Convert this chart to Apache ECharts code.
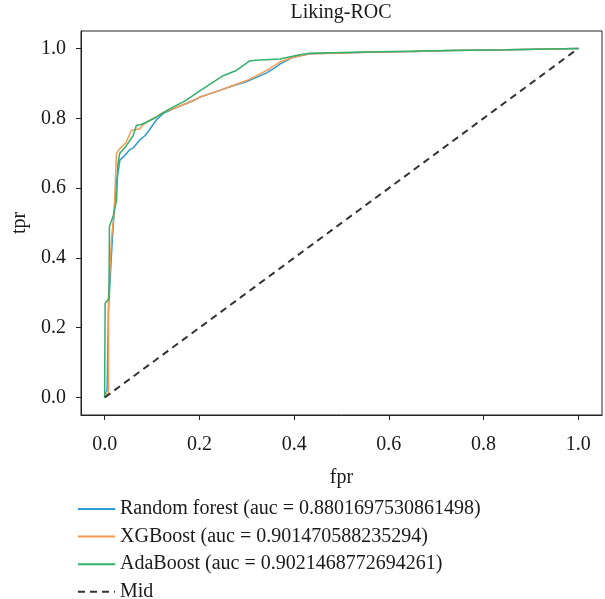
<!DOCTYPE html>
<html>
<head>
<meta charset="utf-8">
<script src="https://cdn.jsdelivr.net/npm/echarts@6/dist/echarts.min.js"></script>
<style>
html,body{margin:0;padding:0;background:#fff;}
#chart{width:605px;height:599px;}
</style>
</head>
<body>
<div id="chart"></div>
<script>
// ---- data ----
const title = "Liking-ROC";
const tickValues = [0, 0.2, 0.4, 0.6, 0.8, 1.0];

const rfName = "Random forest (auc = 0.8801697530861498)";
const rfFpr = [0, 0, 0.005, 0.008, 0.012, 0.016, 0.02, 0.025, 0.03, 0.032, 0.04, 0.053, 0.06, 0.074, 0.085, 0.095, 0.109, 0.125, 0.15, 0.187, 0.2, 0.243, 0.271, 0.3, 0.342, 0.36, 0.37, 0.398, 0.433, 0.5, 0.553, 0.65, 0.73, 0.85, 1.0];
const rfTpr = [0, 0.01, 0.02, 0.25, 0.35, 0.45, 0.53, 0.62, 0.66, 0.68, 0.69, 0.71, 0.715, 0.738, 0.75, 0.768, 0.795, 0.815, 0.83, 0.85, 0.86, 0.88, 0.893, 0.905, 0.93, 0.945, 0.955, 0.975, 0.985, 0.987, 0.989, 0.991, 0.994, 0.996, 1.0];

const xgbName = "XGBoost (auc = 0.901470588235294)";
const xgbFpr = [0, 0.003, 0.008, 0.008, 0.01, 0.014, 0.02, 0.025, 0.032, 0.045, 0.056, 0.074, 0.08, 0.095, 0.11, 0.123, 0.15, 0.187, 0.2, 0.243, 0.271, 0.3, 0.342, 0.37, 0.398, 0.433, 0.5, 0.553, 0.65, 0.73, 0.85, 1.0];
const xgbTpr = [0, 0.01, 0.01, 0.29, 0.335, 0.45, 0.53, 0.70, 0.713, 0.73, 0.765, 0.77, 0.78, 0.794, 0.805, 0.817, 0.83, 0.851, 0.86, 0.88, 0.894, 0.908, 0.937, 0.961, 0.975, 0.985, 0.987, 0.989, 0.991, 0.994, 0.996, 1.0];

const adaName = "AdaBoost (auc = 0.9021468772694261)";
const adaFpr = [0, 0, 0.001, 0.009, 0.01, 0.018, 0.025, 0.028, 0.032, 0.045, 0.06, 0.067, 0.077, 0.09, 0.109, 0.137, 0.17, 0.2, 0.25, 0.278, 0.307, 0.328, 0.37, 0.412, 0.433, 0.55, 0.73, 0.85, 1.0];
const adaTpr = [0, 0.05, 0.27, 0.283, 0.49, 0.52, 0.565, 0.67, 0.70, 0.72, 0.75, 0.78, 0.782, 0.79, 0.803, 0.827, 0.85, 0.878, 0.922, 0.937, 0.965, 0.967, 0.97, 0.982, 0.986, 0.99, 0.994, 0.996, 1.0];

const midName = "Mid";
const midFpr = [0, 1];
const midTpr = [0, 1];

// ---- chart ----
const zip = (a, b) => a.map((v, i) => [v, b[i]]);
const FONT = "Liberation Serif";
const TXT = "#1a1a1a";

const axisCommon = {
  type: "value",
  min: -0.05,
  max: 1.05,
  splitLine: { show: false },
  axisLine: { show: true, onZero: false, lineStyle: { color: "#222", width: 1 } },
  axisTick: { show: true, inside: false, length: 5, customValues: tickValues, lineStyle: { color: "#222" } },
  axisLabel: {
    customValues: tickValues,
    formatter: v => v.toFixed(1),
    fontFamily: FONT, fontSize: 20, color: TXT
  },
  nameLocation: "middle",
  nameTextStyle: { fontFamily: FONT, fontSize: 20, color: TXT }
};

const chart = echarts.init(document.getElementById("chart"), null, { renderer: "canvas" });
chart.setOption({
  animation: false,
  backgroundColor: "#fff",
  title: {
    text: title,
    left: 341, top: 3, textAlign: "center", padding: 0,
    textStyle: { fontFamily: FONT, fontSize: 20, fontWeight: "normal", color: TXT }
  },
  grid: { left: 81, right: 3, top: 31, bottom: 184, show: true, borderColor: "#222", borderWidth: 1, containLabel: false },
  xAxis: Object.assign({}, axisCommon, {
    name: "fpr", nameGap: 53,
    axisLabel: Object.assign({}, axisCommon.axisLabel, { margin: 20 })
  }),
  yAxis: Object.assign({}, axisCommon, {
    name: "tpr", nameGap: 42, nameRotate: 90,
    axisLabel: Object.assign({}, axisCommon.axisLabel, { margin: 15 })
  }),
  legend: {
    orient: "vertical",
    left: 77, top: 499, height: 140, padding: 0,
    itemWidth: 37, itemHeight: 14, itemGap: 7.6,
    itemStyle: { opacity: 0 },
    textStyle: { fontFamily: FONT, fontSize: 20, color: TXT },
    data: [rfName, xgbName, adaName, midName]
  },
  series: [
    { name: rfName, type: "line", symbol: "none", data: zip(rfFpr, rfTpr),
      lineStyle: { color: "#2e9bd6", width: 1.5 }, itemStyle: { color: "#2e9bd6" } },
    { name: xgbName, type: "line", symbol: "none", data: zip(xgbFpr, xgbTpr),
      lineStyle: { color: "#f59a52", width: 1.5 }, itemStyle: { color: "#f59a52" } },
    { name: adaName, type: "line", symbol: "none", data: zip(adaFpr, adaTpr),
      lineStyle: { color: "#33b06a", width: 1.5 }, itemStyle: { color: "#33b06a" } },
    { name: midName, type: "line", symbol: "none", data: zip(midFpr, midTpr),
      lineStyle: { color: "#333", width: 2, type: [7, 5] }, itemStyle: { color: "#333" } }
  ]
});
</script>
</body>
</html>
